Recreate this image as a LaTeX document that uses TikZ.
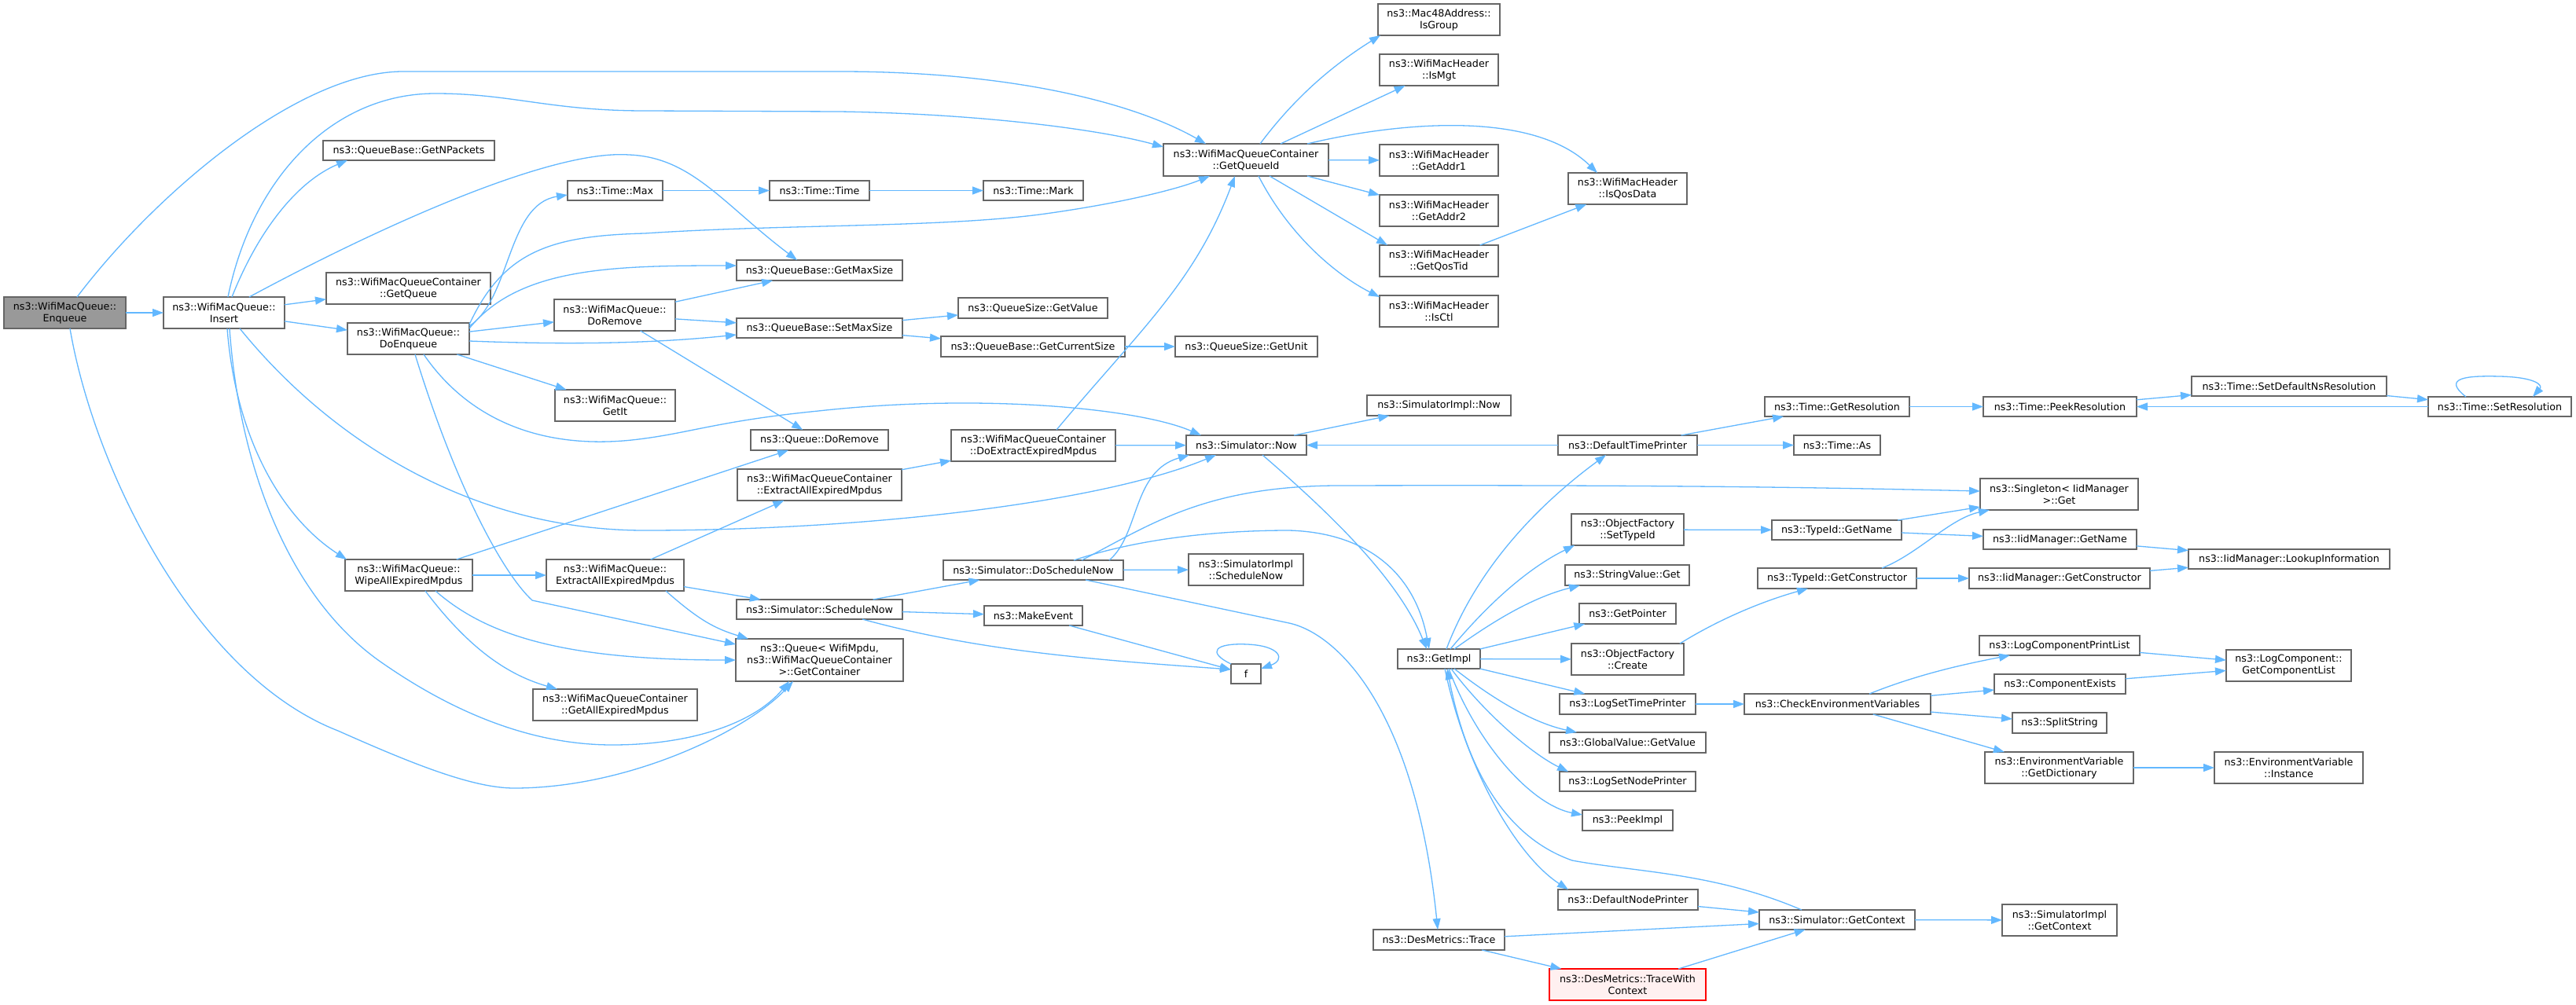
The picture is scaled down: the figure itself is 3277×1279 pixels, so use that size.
\documentclass[tikz,border=0pt]{standalone}
\usepackage{fontspec}
\setmainfont{DejaVu Sans}
\usetikzlibrary{arrows.meta,calc}
\definecolor{edgeblue}{RGB}{99,184,255}
\definecolor{bordergray}{RGB}{102,102,102}
\definecolor{rootfill}{RGB}{153,153,153}
\definecolor{pinkfill}{RGB}{255,240,240}
\tikzset{
  nbox/.style={draw=bordergray, line width=1.3pt, fill=white, inner sep=0pt, outer sep=0pt,
    align=center, text=black, font=\fontsize{12.7pt}{15pt}\selectfont},
  rootbox/.style={nbox, fill=rootfill},
  redbox/.style={nbox, draw=red, fill=pinkfill},
  e/.style={draw=edgeblue, line width=1.3pt, -{Triangle[length=14pt,width=10pt]}},
}
\newcommand\nd[7][]{\node[nbox,#1, minimum width={(#5-#3)*1pt}, minimum height={(#6-#4)*1pt}] (#2) at ({(#3+#5)/2},{(#4+#6)/2}) {#7};}
\begin{document}
\begin{tikzpicture}[x=1pt,y=-1pt]
\useasboundingbox (0,0) rectangle (3277,1279);
\fill[white] (0,0) rectangle (3277,1279);
% nodes
\nd[rootbox]{enq}{5}{378}{160}{418}{ns3::WifiMacQueue::\\Enqueue}
\nd{ins}{208}{378}{362}{418}{ns3::WifiMacQueue::\\Insert}
\nd{npk}{411}{179}{629}{204}{ns3::QueueBase::GetNPackets}
\nd{gq}{415}{347}{624}{387}{ns3::WifiMacQueueContainer\\::GetQueue}
\nd{doenq}{442}{411}{597}{451}{ns3::WifiMacQueue::\\DoEnqueue}
\nd{tmax}{722}{230}{843}{255}{ns3::Time::Max}
\nd{ttime}{979}{230}{1106}{255}{ns3::Time::Time}
\nd{tmark}{1251}{230}{1378}{255}{ns3::Time::Mark}
\nd{gms}{937}{331}{1148}{357}{ns3::QueueBase::GetMaxSize}
\nd{wdrem}{705}{381}{859}{421}{ns3::WifiMacQueue::\\DoRemove}
\nd{sms}{937}{405}{1148}{430}{ns3::QueueBase::SetMaxSize}
\nd{qsgv}{1219}{379}{1409}{405}{ns3::QueueSize::GetValue}
\nd{gcs}{1197}{428}{1431}{454}{ns3::QueueBase::GetCurrentSize}
\nd{qsgu}{1495}{428}{1676}{454}{ns3::QueueSize::GetUnit}
\nd{getit}{706}{496}{859}{536}{ns3::WifiMacQueue::\\GetIt}
\nd{qdrem}{955}{547}{1130}{573}{ns3::Queue::DoRemove}
\nd{dext}{1210}{547}{1419}{587}{ns3::WifiMacQueueContainer\\::DoExtractExpiredMpdus}
\nd{now}{1509}{554}{1662}{579}{ns3::Simulator::Now}
\nd{cext}{938}{597}{1147}{637}{ns3::WifiMacQueueContainer\\::ExtractAllExpiredMpdus}
\nd{wipe}{439}{712}{601}{752}{ns3::WifiMacQueue::\\WipeAllExpiredMpdus}
\nd{wext}{695}{712}{870}{752}{ns3::WifiMacQueue::\\ExtractAllExpiredMpdus}
\nd{dsn}{1200}{713}{1429}{738}{ns3::Simulator::DoScheduleNow}
\nd{sisn}{1512}{705}{1658}{745}{ns3::SimulatorImpl\\::ScheduleNow}
\nd{ssn}{937}{763}{1148}{788}{ns3::Simulator::ScheduleNow}
\nd{mkev}{1252}{771}{1377}{796}{ns3::MakeEvent}
\nd{gcont}{936}{813}{1149}{867}{ns3::Queue< WifiMpdu,\\ns3::WifiMacQueueContainer\\>::GetContainer}
\nd{f}{1566}{845}{1604}{870}{f}
\nd{gaem}{678}{877}{887}{917}{ns3::WifiMacQueueContainer\\::GetAllExpiredMpdus}
\nd{gqid}{1480}{183}{1690}{224}{ns3::WifiMacQueueContainer\\::GetQueueId}
\nd{isgroup}{1753}{5}{1908}{45}{ns3::Mac48Address::\\IsGroup}
\nd{ismgt}{1755}{69}{1906}{109}{ns3::WifiMacHeader\\::IsMgt}
\nd{addr1}{1755}{184}{1906}{224}{ns3::WifiMacHeader\\::GetAddr1}
\nd{addr2}{1755}{248}{1906}{288}{ns3::WifiMacHeader\\::GetAddr2}
\nd{qostid}{1755}{312}{1906}{352}{ns3::WifiMacHeader\\::GetQosTid}
\nd{isctl}{1755}{376}{1906}{416}{ns3::WifiMacHeader\\::IsCtl}
\nd{isqos}{1995}{220}{2146}{260}{ns3::WifiMacHeader\\::IsQosData}
\nd{sinow}{1739}{503}{1922}{529}{ns3::SimulatorImpl::Now}
\nd{dtp}{1982}{554}{2159}{579}{ns3::DefaultTimePrinter}
\nd{getres}{2245}{505}{2429}{530}{ns3::Time::GetResolution}
\nd{tas}{2282}{554}{2392}{579}{ns3::Time::As}
\nd{peekres}{2523}{505}{2718}{530}{ns3::Time::PeekResolution}
\nd{setdef}{2788}{479}{3036}{504}{ns3::Time::SetDefaultNsResolution}
\nd{setres}{3089}{505}{3271}{530}{ns3::Time::SetResolution}
\nd{single}{2519}{609}{2720}{649}{ns3::Singleton< IidManager\\>::Get}
\nd{ofset}{1999}{654}{2142}{694}{ns3::ObjectFactory\\::SetTypeId}
\nd{tgname}{2254}{662}{2419}{687}{ns3::TypeId::GetName}
\nd{iidgn}{2523}{674}{2718}{699}{ns3::IidManager::GetName}
\nd{lookup}{2784}{699}{3040}{724}{ns3::IidManager::LookupInformation}
\nd{svget}{1991}{719}{2149}{745}{ns3::StringValue::Get}
\nd{tgcons}{2236}{723}{2438}{749}{ns3::TypeId::GetConstructor}
\nd{iidgc}{2505}{723}{2735}{749}{ns3::IidManager::GetConstructor}
\nd{gptr}{2009}{768}{2132}{794}{ns3::GetPointer}
\nd{getimpl}{1778}{826}{1883}{851}{ns3::GetImpl}
\nd{ofcreate}{1999}{819}{2142}{859}{ns3::ObjectFactory\\::Create}
\nd{lcpl}{2518}{809}{2722}{834}{ns3::LogComponentPrintList}
\nd{gcl}{2832}{827}{2991}{867}{ns3::LogComponent::\\GetComponentList}
\nd{cexists}{2537}{858}{2704}{883}{ns3::ComponentExists}
\nd{lctp}{1984}{883}{2157}{909}{ns3::LogSetTimePrinter}
\nd{cev}{2219}{883}{2456}{909}{ns3::CheckEnvironmentVariables}
\nd{split}{2560}{907}{2680}{933}{ns3::SplitString}
\nd{gvget}{1971}{932}{2170}{958}{ns3::GlobalValue::GetValue}
\nd{gdict}{2525}{957}{2714}{997}{ns3::EnvironmentVariable\\::GetDictionary}
\nd{inst}{2817}{957}{3006}{997}{ns3::EnvironmentVariable\\::Instance}
\nd{lsnp}{1984}{982}{2157}{1007}{ns3::LogSetNodePrinter}
\nd{peekimpl}{2013}{1031}{2128}{1057}{ns3::PeekImpl}
\nd{dnp}{1982}{1132}{2160}{1158}{ns3::DefaultNodePrinter}
\nd{getctx}{2238}{1158}{2436}{1183}{ns3::Simulator::GetContext}
\nd{sigctx}{2547}{1151}{2693}{1191}{ns3::SimulatorImpl\\::GetContext}
\nd{trace}{1747}{1183}{1914}{1209}{ns3::DesMetrics::Trace}
\nd[redbox]{twc}{1971}{1233}{2170}{1273}{ns3::DesMetrics::TraceWith\\Context}
% edges from Enqueue
\draw[e] (enq) -- (ins);
\draw[e] (enq.north -| 98,0) .. controls (198,246) and (380,91) .. (513,91) -- (1068,91) .. controls (1300,91) and (1450,135) .. (gqid.north -| 1534,0);
\draw[e] (enq.south -| 89,0) .. controls (120,600) and (250,860) .. (430,930) .. controls (520,970) and (600,1003) .. (654,1003) .. controls (800,1003) and (950,930) .. (gcont.south -| 1009,0);
% edges from Insert
\draw[e] (ins.north -| 290,0) .. controls (320,230) and (420,119) .. (554,119) .. controls (650,119) and (700,141) .. (820,141) -- (1068,142) .. controls (1250,145) and (1400,165) .. (gqid.west |- 0,187);
\draw[e] (ins.north -| 295,0) .. controls (330,290) and (380,230) .. (npk.south -| 442,0);
\draw[e] (ins.north -| 317,0) .. controls (480,290) and (700,190) .. (800,197) .. controls (880,200) and (920,260) .. (gms.north -| 1014,0);
\draw[e] (ins) -- (gq);
\draw[e] (ins) -- (doenq);
\draw[e] (ins.south -| 289,0) .. controls (300,560) and (360,660) .. (wipe.north -| 441,0);
\draw[e] (ins.south -| 292,0) .. controls (305,600) and (370,760) .. (481,840) .. controls (580,910) and (680,948) .. (779,948) .. controls (880,948) and (960,920) .. (gcont.south -| 1004,0);
\draw[e] (ins.south -| 305,0) .. controls (420,560) and (600,675) .. (820,675) .. controls (1100,675) and (1400,640) .. (now.south -| 1547,0);
% edges from DoEnqueue
\draw[e] (doenq.east |- 0,415) .. controls (650,380) and (645,260) .. (tmax.west |- 0,248);
\draw[e] (doenq.east |- 0,418) .. controls (660,340) and (780,338) .. (gms.west |- 0,338);
\draw[e] (doenq.east |- 0,413) .. controls (640,320) and (700,300) .. (820,297) .. controls (1000,285) and (1200,290) .. (1330,272) .. controls (1430,258) and (1500,240) .. (gqid.south -| 1539,0);
\draw[e] (doenq) -- (wdrem);
\draw[e] (doenq.east |- 0,434) .. controls (750,440) and (850,435) .. (sms.west |- 0,426);
\draw[e] (doenq) -- (getit);
\draw[e] (doenq.south -| 539,0) .. controls (600,540) and (700,575) .. (820,558) .. controls (880,550) and (920,535) .. (1041,523) .. controls (1250,500) and (1450,520) .. (now.north -| 1528,0);
\draw[e] (doenq.south -| 528,0) .. controls (580,620) and (640,730) .. (677,764) -- (gcont.west |- 0,820);
% WifiMacQueue::DoRemove
\draw[e] (wdrem) -- (gms);
\draw[e] (wdrem) -- (sms);
\draw[e] (wdrem) -- (qdrem);
\draw[e] (tmax) -- (ttime);
\draw[e] (ttime) -- (tmark);
\draw[e] (sms) -- (qsgv);
\draw[e] (sms) -- (gcs);
\draw[e] (gcs) -- (qsgu);
% WipeAllExpiredMpdus
\draw[e] (wipe) -- (qdrem);
\draw[e] (wipe) -- (wext);
\draw[e] (wipe.south -| 541,0) .. controls (600,830) and (650,860) .. (gaem.north -| 709,0);
\draw[e] (wipe.south -| 554,0) .. controls (620,810) and (720,840) .. (gcont.west |- 0,840);
% WifiMacQueue::ExtractAllExpiredMpdus
\draw[e] (wext) -- (cext);
\draw[e] (wext) -- (ssn);
\draw[e] (wext.south -| 847,0) .. controls (890,790) and (910,800) .. (gcont.north -| 952,0);
\draw[e] (cext) -- (dext);
\draw[e] (dext.north -| 1344,0) .. controls (1450,420) and (1520,360) .. (gqid.south -| 1571,0);
\draw[e] (dext) -- (now);
% scheduling
\draw[e] (ssn) -- (dsn);
\draw[e] (ssn) -- (mkev);
\draw[e] (ssn.south -| 1097,0) .. controls (1250,830) and (1400,840) .. (f.west |- 0,852);
\draw[e] (mkev) -- (f);
\draw[e] (f.north west) .. controls (1535,830) and (1545,818) .. (1587,820) .. controls (1630,822) and (1635,840) .. (f.east |- 0,851);
\draw[e] (dsn) -- (sisn);
\draw[e] (dsn.north -| 1411,0) .. controls (1450,680) and (1440,600) .. (now.south -| 1513,0);
\draw[e] (dsn.north -| 1376,0) .. controls (1460,670) and (1530,619) .. (1700,618) .. controls (2100,617) and (2300,620) .. (single.west |- 0,625);
\draw[e] (dsn.north -| 1366,0) .. controls (1450,685) and (1550,675) .. (1640,675) .. controls (1740,678) and (1800,730) .. (getimpl.north -| 1818,0);
\draw[e] (dsn.south -| 1381,0) -- (1640,793) .. controls (1700,806) and (1800,900) .. (trace.north -| 1829,0);
% Simulator::Now
\draw[e] (now) -- (sinow);
\draw[e] (now.south -| 1606,0) .. controls (1700,660) and (1780,740) .. (getimpl.north -| 1815,0);
\draw[e] (dtp) -- (now);
\draw[e] (dtp) -- (getres);
\draw[e] (dtp) -- (tas);
\draw[e] (getres) -- (peekres);
\draw[e] (peekres) -- (setdef);
\draw[e] (setdef) -- (setres);
\draw[e] (setres) -- (peekres);
\draw[e] (setres.north -| 3137,0) .. controls (3105,480) and (3140,478) .. (3180,479) .. controls (3225,480) and (3235,490) .. (setres.north -| 3222,0);
% GetImpl
\draw[e] (getimpl.north -| 1840,0) .. controls (1880,720) and (1960,640) .. (dtp.south -| 2043,0);
\draw[e] (getimpl.north -| 1845,0) .. controls (1900,760) and (1950,720) .. (ofset.south -| 2003,0);
\draw[e] (getimpl.north -| 1850,0) .. controls (1900,790) and (1950,760) .. (svget.south -| 2010,0);
\draw[e] (getimpl) -- (gptr);
\draw[e] (getimpl) -- (ofcreate);
\draw[e] (getimpl) -- (lctp);
\draw[e] (getimpl.south -| 1850,0) .. controls (1900,890) and (1950,920) .. (gvget.north -| 2006,0);
\draw[e] (getimpl.south -| 1846,0) .. controls (1890,910) and (1950,960) .. (lsnp.north -| 1995,0);
\draw[e] (getimpl.south -| 1843,0) .. controls (1880,950) and (1950,1025) .. (peekimpl.west |- 0,1037);
\draw[e] (getimpl.south -| 1838,0) .. controls (1865,980) and (1930,1090) .. (dnp.north -| 1995,0);
\draw[e] (getctx.north -| 2292,0) .. controls (2180,1110) and (2080,1110) .. (2000,1095) .. controls (1900,1060) and (1860,950) .. (getimpl.south -| 1841,0);
\draw[e] (dnp) -- (getctx);
\draw[e] (trace) -- (getctx);
\draw[e] (trace) -- (twc);
\draw[e] (twc) -- (getctx);
\draw[e] (getctx) -- (sigctx);
% TypeId
\draw[e] (ofset) -- (tgname);
\draw[e] (tgname) -- (single);
\draw[e] (tgname) -- (iidgn);
\draw[e] (ofcreate.north -| 2137,0) .. controls (2200,780) and (2260,760) .. (tgcons.south -| 2300,0);
\draw[e] (tgcons.north -| 2394,0) .. controls (2440,705) and (2480,660) .. (single.south -| 2531,0);
\draw[e] (tgcons) -- (iidgc);
\draw[e] (iidgn) -- (lookup);
\draw[e] (iidgc) -- (lookup);
% logging
\draw[e] (lctp) -- (cev);
\draw[e] (cev.north -| 2378,0) .. controls (2440,858) and (2500,845) .. (lcpl.south -| 2557,0);
\draw[e] (cev) -- (cexists);
\draw[e] (cev) -- (split);
\draw[e] (cev) -- (gdict);
\draw[e] (lcpl) -- (gcl);
\draw[e] (cexists) -- (gcl);
\draw[e] (gdict) -- (inst);
% GetQueueId
\draw[e] (gqid.north -| 1603,0) .. controls (1650,120) and (1700,80) .. (isgroup.south -| 1756,0);
\draw[e] (gqid) -- (ismgt);
\draw[e] (gqid.north -| 1663,0) .. controls (1780,155) and (1950,140) .. (isqos.north -| 2032,0);
\draw[e] (gqid) -- (addr1);
\draw[e] (gqid) -- (addr2);
\draw[e] (gqid.south -| 1615,0) -- (qostid.north -| 1765,0);
\draw[e] (gqid.south -| 1601,0) .. controls (1640,300) and (1700,350) .. (isctl.west |- 0,378);
\draw[e] (qostid) -- (isqos);
\end{tikzpicture}
\end{document}
